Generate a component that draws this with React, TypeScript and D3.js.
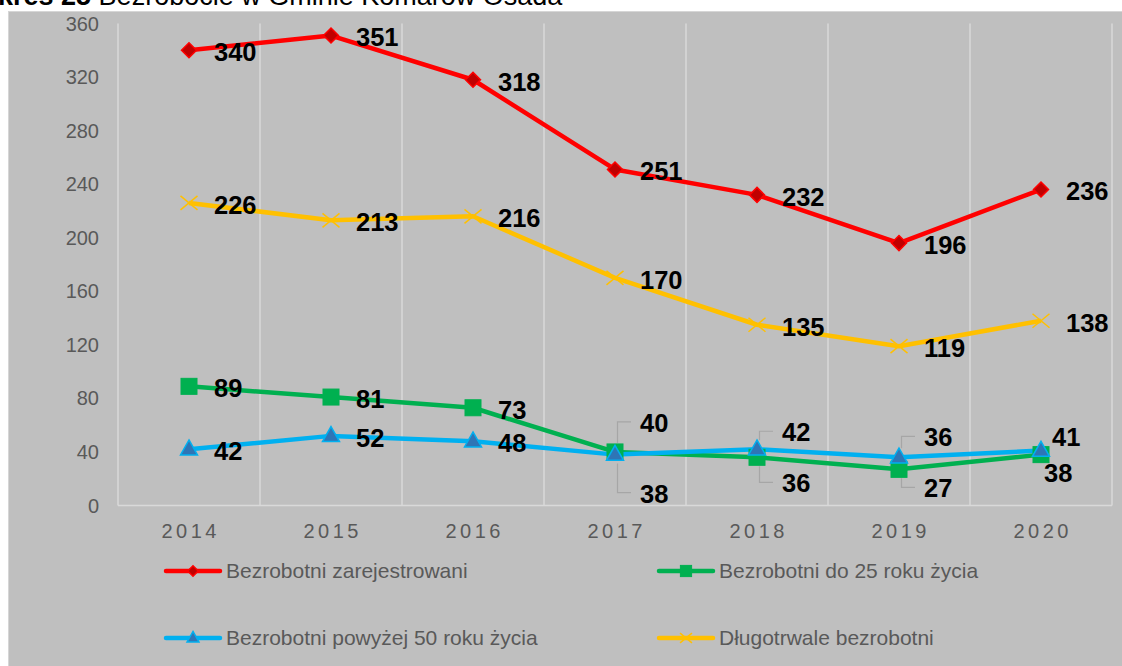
import React from 'react';
import * as d3 from 'd3';

const years = ['2014', '2015', '2016', '2017', '2018', '2019', '2020'];
const registered = [340, 351, 318, 251, 232, 196, 236];
const under25 = [89, 81, 73, 40, 36, 27, 38];
const over50 = [42, 52, 48, 38, 42, 36, 41];
const longTerm = [226, 213, 216, 170, 135, 119, 138];
const yTicks = [0, 40, 80, 120, 160, 200, 240, 280, 320, 360];

const seriesNames = [
  'Bezrobotni zarejestrowani',
  'Bezrobotni do 25 roku życia',
  'Bezrobotni powyżej 50 roku życia',
  'Długotrwale bezrobotni',
];

type Marker = 'diamond' | 'square' | 'triangle' | 'x';
interface Series {
  key: string;
  name: string;
  values: number[];
  color: string;
  fill: string;
  marker: Marker;
}

const series: Series[] = [
  { key: 'reg', name: seriesNames[0], values: registered, color: '#ff0000', fill: '#c00000', marker: 'diamond' },
  { key: 'u25', name: seriesNames[1], values: under25, color: '#00b050', fill: '#00b050', marker: 'square' },
  { key: 'o50', name: seriesNames[2], values: over50, color: '#00b0f0', fill: '#2e75b6', marker: 'triangle' },
  { key: 'long', name: seriesNames[3], values: longTerm, color: '#ffc000', fill: '#ffc000', marker: 'x' },
];

// drawing order (Excel draws later series on top)
const drawOrder = ['reg', 'long', 'u25', 'o50'];

// label placement overrides (style/layout)
const labelOverrides: Record<string, { dx: number; dy: number; leader?: 'up' | 'down' }> = {
  'u25-3': { dx: 25, dy: -29, leader: 'up' },
  'u25-4': { dx: 25, dy: 26, leader: 'down' },
  'u25-5': { dx: 25, dy: 19, leader: 'down' },
  'u25-6': { dx: 3, dy: 18 },
  'o50-3': { dx: 25, dy: 39, leader: 'down' },
  'o50-4': { dx: 25, dy: -17, leader: 'up' },
  'o50-5': { dx: 25, dy: -20, leader: 'up' },
  'o50-6': { dx: 11, dy: -14 },
};

const legendPos = [
  { x: 166, y: 571 },
  { x: 659, y: 571 },
  { x: 166, y: 638 },
  { x: 659, y: 638 },
];

const FONT = '"Liberation Sans", Arial, sans-serif';

function MarkerShape({ type, cx, cy, color, fill, s = 1 }: { type: Marker; cx: number; cy: number; color: string; fill: string; s?: number }) {
  if (type === 'diamond') {
    const r = 7.5 * s;
    return <path d={`M${cx},${cy - r}L${cx + r},${cy}L${cx},${cy + r}L${cx - r},${cy}Z`} fill={fill} stroke={color} strokeWidth={1.5} />;
  }
  if (type === 'square') {
    const h = 8 * s;
    return <rect x={cx - h} y={cy - h} width={2 * h} height={2 * h} fill={fill} stroke={color} strokeWidth={1} />;
  }
  if (type === 'triangle') {
    const w = 8.5 * s;
    const h = 15 * s;
    return <path d={`M${cx},${cy - h * 0.62}L${cx + w},${cy + h * 0.38}L${cx - w},${cy + h * 0.38}Z`} fill={fill} stroke={color} strokeWidth={1.5} />;
  }
  const a = 8.5 * s;
  const b = 7 * s;
  return (
    <g stroke={color} strokeWidth={1.5}>
      <line x1={cx - a} y1={cy - b} x2={cx + a} y2={cy + b} />
      <line x1={cx - a} y1={cy + b} x2={cx + a} y2={cy - b} />
    </g>
  );
}

export default function App() {
  const x = d3.scaleBand<string>().domain(years).range([118, 1112]).padding(0);
  const bw = x.bandwidth();
  const cx = (yr: string) => (x(yr) as number) + bw / 2;
  const y = d3.scaleLinear().domain([0, 360]).range([505.5, 23.5]);
  const line = d3
    .line<number>()
    .x((_, i) => cx(years[i]))
    .y((v) => y(v));

  const boundaries = d3.range(years.length + 1).map((i) => 118 + i * bw);
  const ordered = drawOrder.map((k) => series.find((s) => s.key === k)!);

  return (
    <svg
      width={1122}
      height={666}
      style={{ position: 'absolute', left: 0, top: 0, overflow: 'hidden' }}
      fontFamily={FONT}
    >
      <rect x={0} y={0} width={1122} height={666} fill="#ffffff" />
      <text x={-42} y={5} fontSize={27} fill="#000">
        <tspan fontWeight="bold">Wykres 25</tspan> Bezrobocie w Gminie Komarów Osada
      </text>
      <rect x={8.5} y={11.5} width={1130} height={670} fill="#bfbfbf" stroke="#d6d6d6" strokeWidth={1} />

      {/* gridlines */}
      {boundaries.map((bx, i) => (
        <line key={i} x1={bx} x2={bx} y1={y(360)} y2={y(0)} stroke="#d9d9d9" strokeWidth={1.5} />
      ))}
      <line x1={118} x2={1112} y1={y(0)} y2={y(0)} stroke="#d9d9d9" strokeWidth={1.5} />

      {/* y axis labels */}
      {yTicks.map((t) => (
        <text key={t} x={99} y={y(t)} dy="0.35em" textAnchor="end" fontSize={20} fill="#595959">
          {t}
        </text>
      ))}
      {/* x axis labels */}
      {years.map((yr) => (
        <text key={yr} x={cx(yr) + 1.75} y={531} dy="0.35em" textAnchor="middle" fontSize={20} letterSpacing={3.5} fill="#595959">
          {yr}
        </text>
      ))}

      {/* lines */}
      {ordered.map((s) => (
        <path key={s.key} d={line(s.values) || ''} fill="none" stroke={s.color} strokeWidth={4.5} strokeLinejoin="round" />
      ))}
      {ordered.map((s) => (
        <g key={s.key + 'm'}>
          {s.values.map((v, i) => (
            <MarkerShape key={i} type={s.marker} cx={cx(years[i])} cy={y(v)} color={s.color} fill={s.fill} />
          ))}
        </g>
      ))}

      {/* data labels */}
      {series.map((s) => (
        <g key={s.key + 'l'}>
          {s.values.map((v, i) => {
            const px = cx(years[i]);
            const py = y(v);
            const o = labelOverrides[`${s.key}-${i}`] || { dx: 25, dy: 2 };
            const lx = px + o.dx;
            const ly = py + o.dy;
            const ldr = o.leader;
            return (
              <g key={i}>
                {ldr && (
                  <path
                    d={`M${px + 16},${ly - 1}L${px + 2.5},${ly - 1}L${px + 2.5},${ldr === 'up' ? py - 9 : py + 9}`}
                    fill="none"
                    stroke="#a6a6a6"
                    strokeWidth={1.2}
                  />
                )}
                <text x={lx} y={ly} dy="0.35em" fontSize={25.5} fontWeight="bold" fill="#000">
                  {v}
                </text>
              </g>
            );
          })}
        </g>
      ))}

      {/* legend */}
      {series.map((s, i) => {
        const p = legendPos[i];
        return (
          <g key={s.key + 'lg'}>
            <line x1={p.x} x2={p.x + 54} y1={p.y} y2={p.y} stroke={s.color} strokeWidth={4.5} strokeLinecap="round" />
            <MarkerShape type={s.marker} cx={p.x + 27} cy={p.y} color={s.color} fill={s.fill} s={0.7} />
            <text x={p.x + 60} y={p.y} dy="0.35em" fontSize={21} fill="#595959">
              {s.name}
            </text>
          </g>
        );
      })}
    </svg>
  );
}
